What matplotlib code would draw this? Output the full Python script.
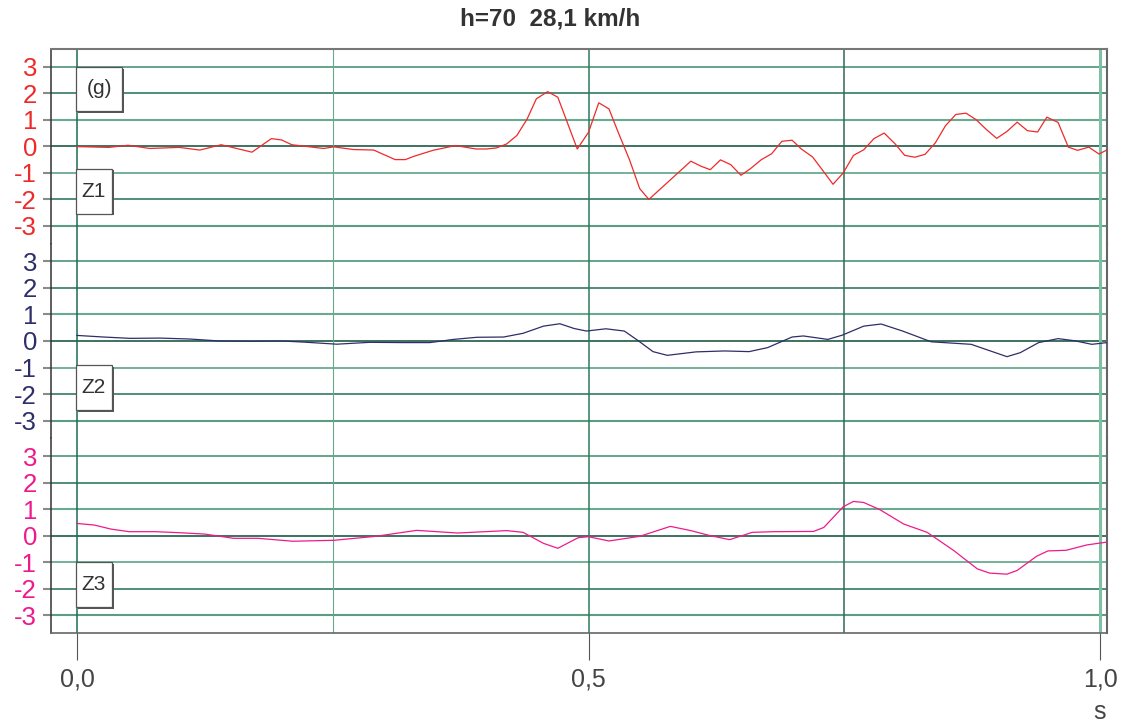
import matplotlib
matplotlib.use("Agg")
import matplotlib.pyplot as plt
from matplotlib.patches import Rectangle

plt.rcParams['font.family'] = ['Liberation Sans', 'DejaVu Sans']

# --- data (time in s, acceleration in g) ---
t1 = [0.0, 0.031, 0.050, 0.071, 0.100, 0.120, 0.141, 0.171, 0.190, 0.200,
      0.210, 0.241, 0.251, 0.270, 0.290, 0.311, 0.321, 0.329, 0.348, 0.370,
      0.390, 0.400, 0.410, 0.420, 0.430, 0.440, 0.449, 0.460, 0.470, 0.489,
      0.500, 0.510, 0.520, 0.529, 0.540, 0.550, 0.559, 0.600, 0.610, 0.619,
      0.629, 0.639, 0.649, 0.658, 0.669, 0.679, 0.689, 0.699, 0.708, 0.719,
      0.729, 0.739, 0.749, 0.759, 0.769, 0.779, 0.789, 0.800, 0.809, 0.819,
      0.829, 0.839, 0.849, 0.859, 0.869, 0.879, 0.889, 0.899, 0.909, 0.919,
      0.929, 0.939, 0.948, 0.959, 0.969, 0.978, 0.989, 0.999, 1.007]
z1 = [-0.01, -0.04, 0.04, -0.08, -0.04, -0.14, 0.06, -0.22, 0.29, 0.24,
      0.06, -0.08, -0.02, -0.12, -0.14, -0.50, -0.50, -0.38, -0.15, 0.03,
      -0.10, -0.10, -0.06, 0.09, 0.41, 1.03, 1.79, 2.06, 1.85, -0.10,
      0.53, 1.64, 1.41, 0.53, -0.50, -1.59, -2.00, -0.56, -0.75, -0.88,
      -0.51, -0.69, -1.09, -0.85, -0.50, -0.28, 0.19, 0.23, -0.10, -0.40,
      -0.91, -1.43, -1.00, -0.34, -0.13, 0.29, 0.50, 0.08, -0.34, -0.41,
      -0.30, 0.13, 0.78, 1.20, 1.25, 1.00, 0.63, 0.30, 0.56, 0.91,
      0.59, 0.54, 1.10, 0.90, -0.03, -0.15, -0.03, -0.29, -0.13]

t2 = [0.0, 0.026, 0.052, 0.081, 0.110, 0.140, 0.169, 0.200, 0.221, 0.254,
      0.286, 0.319, 0.345, 0.368, 0.391, 0.417, 0.436, 0.456, 0.472, 0.486,
      0.498, 0.517, 0.535, 0.549, 0.563, 0.577, 0.605, 0.633, 0.657, 0.675,
      0.699, 0.710, 0.734, 0.748, 0.769, 0.786, 0.807, 0.835, 0.874, 0.909,
      0.922, 0.940, 0.959, 0.975, 0.992, 1.007]
z2 = [0.21, 0.15, 0.10, 0.11, 0.075, 0.0, -0.01, 0.0, -0.04, -0.12,
      -0.05, -0.06, -0.06, 0.06, 0.14, 0.15, 0.29, 0.56, 0.65, 0.47,
      0.375, 0.46, 0.375, 0.0, -0.40, -0.54, -0.41, -0.375, -0.40, -0.25,
      0.15, 0.19, 0.06, 0.22, 0.56, 0.64, 0.375, -0.03, -0.125, -0.59,
      -0.44, -0.06, 0.09, 0.01, -0.125, -0.06]

t3 = [0.0, 0.017, 0.033, 0.051, 0.077, 0.101, 0.125, 0.153, 0.177, 0.211,
      0.251, 0.292, 0.332, 0.372, 0.420, 0.436, 0.456, 0.470, 0.490, 0.500,
      0.520, 0.550, 0.580, 0.600, 0.619, 0.638, 0.660, 0.681, 0.720, 0.730,
      0.749, 0.759, 0.769, 0.785, 0.808, 0.831, 0.857, 0.880, 0.892, 0.909,
      0.919, 0.938, 0.949, 0.967, 0.987, 1.007]
z3 = [0.46, 0.40, 0.25, 0.15, 0.15, 0.11, 0.06, -0.10, -0.10, -0.21,
      -0.175, -0.025, 0.20, 0.10, 0.19, 0.125, -0.29, -0.475, -0.075, -0.04,
      -0.20, -0.025, 0.35, 0.19, 0.0, -0.15, 0.125, 0.15, 0.16, 0.31,
      1.09, 1.29, 1.25, 0.975, 0.44, 0.125, -0.56, -1.25, -1.41, -1.45,
      -1.31, -0.775, -0.575, -0.55, -0.35, -0.24]

names = ['Z1', 'Z2', 'Z3']
colors = ['#ee2a2a', '#2e2e6a', '#ee1a8c']
levels = [3, 2, 1, 0, -1, -2, -3]
xticks = [0.0, 0.5, 1.0]
xticklabels = ['0,0', '0,5', '1,0']
title = 'h=70  28,1 km/h'

W, H = 1129, 726
fig = plt.figure(figsize=(W / 100, H / 100), dpi=100)

left, right, top, bottom = 51, 1107, 49, 633
ph = (bottom - top) / 3

hcol = {3: ('#5b9c82', 1.3), 2: ('#1f7055', 1.1), 1: ('#69ab90', 1.5),
        0: ('#1c5a45', 1.2), -1: ('#69ab90', 1.3), -2: ('#1f7055', 1.1),
        -3: ('#5b9c82', 1.5)}
vlines = [(0.0, '#1d6b4f', 1.1), (0.25, '#6aa88c', 0.8), (0.5, '#2a7a5c', 1.1),
          (0.75, '#2f6a55', 1.1), (1.0, '#7fbfa6', 2.2)]

series = [(t1, z1), (t2, z2), (t3, z3)]
axes = []
for i, (t, z) in enumerate(series):
    y0 = top + i * ph
    ax = fig.add_axes([left / W, 1 - (y0 + ph) / H, (right - left) / W, ph / H])
    ax.set_xlim(-0.0254, 1.0068)
    ax.set_ylim(-3.667, 3.667)
    for lv in levels:
        c, lw = hcol[lv]
        ax.axhline(lv, color=c, lw=lw, zorder=1)
    for xv, c, lw in vlines:
        ax.axvline(xv, color=c, lw=lw, zorder=1)
    ax.plot(t, z, color=colors[i], lw=0.9, zorder=3)

    ax.set_yticks(levels)
    ax.set_yticklabels([str(v) for v in levels])
    ax.tick_params(axis='y', length=6, width=1.5, color='#8a8a8a',
                   labelsize=18.5, labelcolor=colors[i], pad=4)
    for s in ['top', 'bottom']:
        ax.spines[s].set_visible(False)
    ax.spines['left'].set_color('#333333')
    ax.spines['left'].set_linewidth(1.1)
    ax.spines['right'].set_color('#666666')
    ax.spines['right'].set_linewidth(1.5)
    if i == 0:
        ax.spines['top'].set_visible(True)
        ax.spines['top'].set_color('#777777')
        ax.spines['top'].set_linewidth(1.5)
    if i == 2:
        ax.spines['bottom'].set_visible(True)
        ax.spines['bottom'].set_color('#666666')
        ax.spines['bottom'].set_linewidth(1.2)
        ax.set_xticks(xticks)
        ax.set_xticklabels(xticklabels)
        ax.tick_params(axis='x', length=19.5, width=0.8, color='#555555',
                       labelsize=18, labelcolor='#444444', pad=5)
    else:
        ax.set_xticks([])
    axes.append(ax)


def label_box(x0, y0, w, h, text):
    fig.patches.append(Rectangle(((x0 + 1.5) / W, 1 - (y0 + h + 1.5) / H), w / W, h / H,
                                 transform=fig.transFigure, facecolor='#555555',
                                 edgecolor='none', zorder=5))
    fig.patches.append(Rectangle((x0 / W, 1 - (y0 + h) / H), w / W, h / H,
                                 transform=fig.transFigure, facecolor='white',
                                 edgecolor='#555555', lw=0.9, zorder=6))
    fig.text((x0 + w / 2) / W, 1 - (y0 + h / 2) / H, text, ha='center', va='center',
             fontsize=15, color='#333333', zorder=7)


label_box(76, 67, 46, 44, '(g)')
label_box(76, 169, 36, 45, names[0])
label_box(76, 365, 36, 45, names[1])
label_box(76, 562, 36, 45, names[2])

fig.text(550 / W, 1 - 19 / H, title, ha='center', va='center',
         fontsize=17.5, fontweight='bold', color='#333333')
fig.text(1100 / W, 1 - 712 / H, 's', ha='center', va='center',
         fontsize=18, color='#444444')

fig.savefig('out.png', dpi=100)
